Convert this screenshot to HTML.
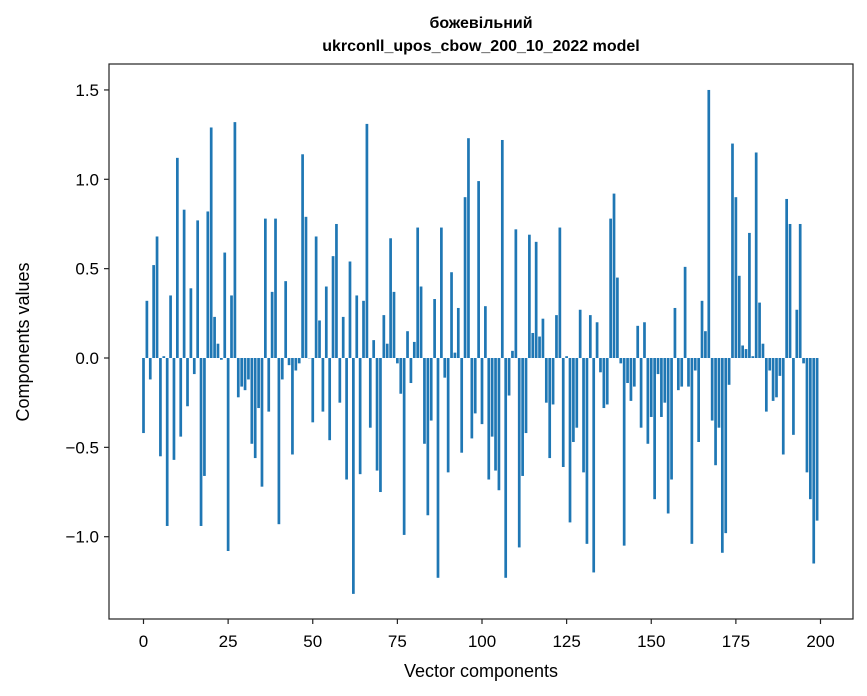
<!DOCTYPE html>
<html><head><meta charset="utf-8"><style>
body{margin:0;background:#fff}
svg{display:block;font-family:"Liberation Sans","DejaVu Sans",sans-serif}
</style></head><body>
<svg id="chart" width="867" height="696" viewBox="0 0 867 696" xmlns="http://www.w3.org/2000/svg">
<rect width="867" height="696" fill="#fff"/>
<text x="481" y="28" text-anchor="middle" font-size="16" font-weight="bold">божевільний</text>
<text x="481" y="51" text-anchor="middle" font-size="16" font-weight="bold">ukrconll_upos_cbow_200_10_2022 model</text>
<g id="bars"></g>
<g id="yticks"></g>
<g id="xticks"></g>
<rect x="109" y="64" width="744" height="555" fill="none" stroke="#222" stroke-width="1.2"/>
<text x="481" y="677" text-anchor="middle" font-size="18">Vector components</text>
<text transform="translate(29,342) rotate(-90)" text-anchor="middle" font-size="18">Components values</text>
</svg>
<script>
const values = [-0.42,0.32,-0.12,0.52,0.68,-0.55,0.01,-0.94,0.35,-0.57,
1.12,-0.44,0.83,-0.27,0.39,-0.09,0.77,-0.94,-0.66,0.82,
1.29,0.23,0.08,-0.01,0.59,-1.08,0.35,1.32,-0.22,-0.16,
-0.18,-0.12,-0.48,-0.56,-0.28,-0.72,0.78,-0.30,0.37,0.78,
-0.93,-0.12,0.43,-0.04,-0.54,-0.07,-0.03,1.14,0.79,0.0,
-0.36,0.68,0.21,-0.30,0.40,-0.46,0.57,0.75,-0.25,0.23,
-0.68,0.54,-1.32,0.35,-0.65,0.32,1.31,-0.39,0.10,-0.63,
-0.75,0.24,0.08,0.67,0.37,-0.03,-0.20,-0.99,0.15,-0.14,
0.09,0.73,0.40,-0.48,-0.88,-0.35,0.33,-1.23,0.73,-0.11,
-0.64,0.48,0.03,0.28,-0.53,0.90,1.23,-0.45,-0.31,0.99,
-0.37,0.29,-0.68,-0.44,-0.63,-0.74,1.22,-1.23,-0.21,0.04,
0.72,-1.06,-0.66,-0.42,0.69,0.14,0.65,0.12,0.22,-0.25,
-0.56,-0.26,0.24,0.73,-0.61,0.01,-0.92,-0.47,-0.39,0.27,
-0.64,-1.04,0.24,-1.20,0.20,-0.08,-0.28,-0.26,0.78,0.92,
0.45,-0.03,-1.05,-0.14,-0.24,-0.16,0.18,-0.39,0.20,-0.48,
-0.33,-0.79,-0.09,-0.33,-0.25,-0.87,-0.68,0.28,-0.18,-0.16,
0.51,-0.16,-1.04,-0.07,-0.47,0.32,0.15,1.50,-0.35,-0.60,
-0.39,-1.09,-0.98,-0.15,1.20,0.90,0.46,0.07,0.05,0.70,
0.01,1.15,0.31,0.08,-0.30,-0.07,-0.24,-0.22,-0.10,-0.54,
0.89,0.75,-0.43,0.27,0.75,-0.03,-0.64,-0.79,-1.15,-0.91];
const xTicks = [0,25,50,75,100,125,150,175,200];
const yTicks = [-1.0,-0.5,0.0,0.5,1.0,1.5];
const yTickLabels = ["\u22121.0","\u22120.5","0.0","0.5","1.0","1.5"];

const NS="http://www.w3.org/2000/svg";
const xScale = v => 143.5 + v*3.385;
const yScale = v => 358 - v*178.7;
const bw = 0.8*3.385;
const bars=document.getElementById('bars');
values.forEach((v,i)=>{
  const r=document.createElementNS(NS,'rect');
  const y0=yScale(0), y1=yScale(v);
  r.setAttribute('x',xScale(i)-bw/2);
  r.setAttribute('y',Math.min(y0,y1));
  r.setAttribute('width',bw);
  r.setAttribute('height',Math.max(Math.abs(y1-y0),0.3));
  r.setAttribute('fill','#1f77b4');
  
  
  bars.appendChild(r);
});
const yt=document.getElementById('yticks');
yTicks.forEach((t,k)=>{
  const y=yScale(t);
  const l=document.createElementNS(NS,'line');
  l.setAttribute('x1',104);l.setAttribute('x2',109);l.setAttribute('y1',y);l.setAttribute('y2',y);
  l.setAttribute('stroke','#222');l.setAttribute('stroke-width',1.2);
  
  
  yt.appendChild(l);
  const tx=document.createElementNS(NS,'text');
  tx.setAttribute('x',99);tx.setAttribute('y',y+6);tx.setAttribute('text-anchor','end');tx.setAttribute('font-size','17');
  tx.textContent=yTickLabels[k];
  
  
  yt.appendChild(tx);
});
const xt=document.getElementById('xticks');
xTicks.forEach(t=>{
  const x=xScale(t);
  const l=document.createElementNS(NS,'line');
  l.setAttribute('x1',x);l.setAttribute('x2',x);l.setAttribute('y1',619);l.setAttribute('y2',624);
  l.setAttribute('stroke','#222');l.setAttribute('stroke-width',1.2);
  
  
  xt.appendChild(l);
  const tx=document.createElementNS(NS,'text');
  tx.setAttribute('x',x);tx.setAttribute('y',647);tx.setAttribute('text-anchor','middle');tx.setAttribute('font-size','17');
  tx.textContent=String(t);
  
  
  xt.appendChild(tx);
});
</script>
</body></html>
